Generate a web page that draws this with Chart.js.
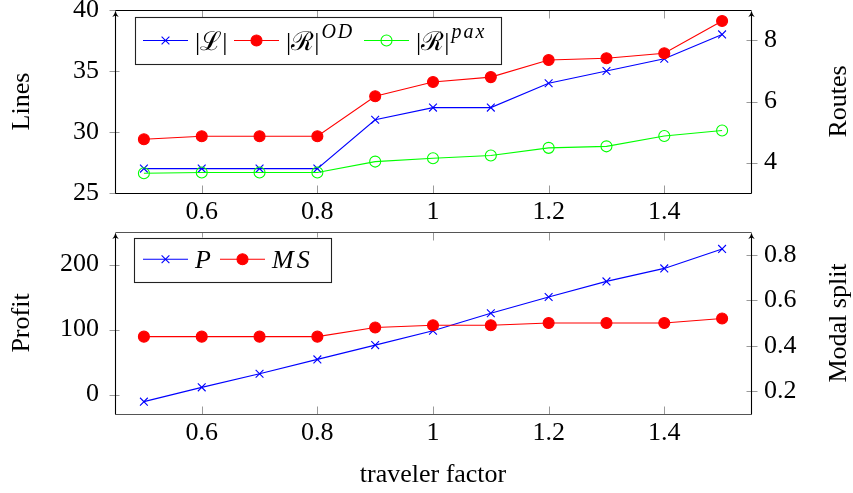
<!DOCTYPE html>
<html>
<head>
<meta charset="utf-8">
<script src="https://cdn.jsdelivr.net/npm/chart.js@4.4.1/dist/chart.umd.min.js"></script>
<style>
html,body{margin:0;padding:0;background:#fff;}
#wrap{position:relative;width:853px;height:493px;overflow:hidden;background:#fff;}
canvas{position:absolute;left:0;}
</style>
</head>
<body>
<div id="wrap">
<canvas id="topChart" width="853" height="235" style="top:0px"></canvas>
<canvas id="botChart" width="853" height="278" style="top:215px"></canvas>
</div>
<script>
// ---------- data ----------
const travelerFactor = [0.5, 0.6, 0.7, 0.8, 0.9, 1.0, 1.1, 1.2, 1.3, 1.4, 1.5];
const linesCount     = [27, 27, 27, 27, 31, 32, 32, 34, 35, 36, 38];
const routesOD       = [4.76, 4.86, 4.86, 4.86, 6.17, 6.64, 6.80, 7.36, 7.42, 7.58, 8.64];
const routesPax      = [3.65, 3.67, 3.67, 3.67, 4.03, 4.14, 4.23, 4.48, 4.53, 4.87, 5.05];
const profit         = [-11, 11, 32, 54, 76, 98, 125, 150, 174, 194, 224];
const modalSplit     = [0.44, 0.44, 0.44, 0.44, 0.48, 0.49, 0.49, 0.50, 0.50, 0.50, 0.52];

const xTicks       = [0.6, 0.8, 1, 1.2, 1.4];
const linesTicks   = [25, 30, 35, 40];
const routesTicks  = [4, 6, 8];
const profitTicks  = [0, 100, 200];
const modalTicks   = [0.2, 0.4, 0.6, 0.8];

const seriesLabelsTop = ['|ℒ|', '|ℛ|^OD', '|ℛ|^pax'];
const seriesLabelsBot = ['P', 'MS'];
const axisTitles = { x: 'traveler factor', lines: 'Lines', routes: 'Routes', profit: 'Profit', modal: 'Modal split' };

// ---------- style ----------
const SERIF = "'Liberation Serif','DejaVu Serif',serif";
Chart.defaults.font.family = SERIF;
Chart.defaults.font.size = 26;
Chart.defaults.color = '#000';

const BLUE = '#0000ff', RED = '#ff0000', GREEN = '#00ff00';

function pts(ys) { return travelerFactor.map((x, i) => ({ x: x, y: ys[i] })); }
function fmt(v) { return String(Math.round(v * 10) / 10); }

function ds(label, ys, axis, color, style, fillColor, extra) {
  return Object.assign({
    label: label, data: pts(ys), yAxisID: axis,
    borderColor: color, borderWidth: 1.1, fill: false, tension: 0,
    pointStyle: style, pointRadius: 5.5, pointHoverRadius: 5.5,
    pointBorderColor: color, pointBackgroundColor: fillColor, pointBorderWidth: 1.1,
    clip: false
  }, extra || {});
}

function xScale(height, labelPad, showTitle, titlePad) {
  return {
    type: 'linear', min: 0.45, max: 1.55,
    afterBuildTicks: s => { s.ticks = xTicks.map(v => ({ value: v })); },
    afterFit: s => { s.height = height; s.paddingLeft = 0; s.paddingRight = 0; },
    grid: { drawOnChartArea: false, drawTicks: false },
    border: { display: false },
    ticks: { padding: labelPad, callback: fmt, maxRotation: 0, autoSkip: false },
    title: { display: showTitle, text: axisTitles.x, padding: { top: titlePad, bottom: titlePad }, font: { size: 26 } }
  };
}
function yScale(pos, min, max, tickArr, width, pad, title) {
  return {
    type: 'linear', position: pos, min: min, max: max,
    afterBuildTicks: s => { s.ticks = tickArr.map(v => ({ value: v })); },
    afterFit: s => { s.width = width; s.paddingTop = 0; s.paddingBottom = 0; },
    grid: { drawOnChartArea: false, drawTicks: false },
    border: { display: false },
    ticks: { padding: pad, callback: fmt, autoSkip: false },
    title: { display: pos === 'left', text: title, padding: { top: 7, bottom: 7 }, font: { size: 26 } }
  };
}

// ---------- decoration plugin (frame, pgf ticks, arrows, right titles, legend) ----------
function arrow(ctx, x, y) {
  ctx.save();
  ctx.fillStyle = '#000';
  ctx.beginPath();
  ctx.moveTo(x, y);
  ctx.quadraticCurveTo(x + 0.8, y + 4, x + 3.2, y + 6.5);
  ctx.lineTo(x, y + 5);
  ctx.lineTo(x - 3.2, y + 6.5);
  ctx.quadraticCurveTo(x - 0.8, y + 4, x, y);
  ctx.closePath();
  ctx.fill();
  ctx.restore();
}
function marker(ctx, style, x, y, r, stroke, fill) {
  ctx.save();
  ctx.strokeStyle = stroke; ctx.lineWidth = 1.1;
  if (style === 'crossRot') {
    const d = r * Math.SQRT1_2;
    ctx.beginPath();
    ctx.moveTo(x - d, y - d); ctx.lineTo(x + d, y + d);
    ctx.moveTo(x + d, y - d); ctx.lineTo(x - d, y + d);
    ctx.stroke();
  } else {
    ctx.beginPath(); ctx.arc(x, y, r, 0, Math.PI * 2);
    ctx.fillStyle = fill; ctx.fill(); ctx.stroke();
  }
  ctx.restore();
}
function drawLabel(ctx, label, italic, x, baseY) {
  const parts = label.split('^');
  ctx.save();
  ctx.fillStyle = '#000'; ctx.textBaseline = 'alphabetic'; ctx.textAlign = 'left';
  ctx.font = (italic ? 'italic ' : '') + '26px ' + SERIF;
  if (italic) ctx.letterSpacing = '3px';
  const w = ctx.measureText(parts[0]).width;
  ctx.fillText(parts[0], x, baseY);
  if (parts[1]) {
    ctx.font = 'italic 20px ' + SERIF;
    ctx.letterSpacing = '2px';
    ctx.fillText(parts[1], x + w + 2, baseY - 11.5);
  }
  ctx.restore();
}

const pgfDecor = {
  id: 'pgfDecor',
  afterDatasetsDraw(chart, args, opts) {
    const ctx = chart.ctx;
    const a = chart.chartArea;
    const L = Math.round(a.left) + 0.5, R = Math.round(a.right) + 0.5;
    const T = Math.round(a.top) + 0.5, B = Math.round(a.bottom) + 0.5;
    ctx.save();
    ctx.strokeStyle = '#9a9a9a'; ctx.lineWidth = 1;
    const xs = chart.scales.x;
    xTicks.forEach(v => {
      const px = Math.round(xs.getPixelForValue(v)) + 0.5;
      ctx.beginPath();
      ctx.moveTo(px, B); ctx.lineTo(px, B - 8);
      ctx.moveTo(px, T); ctx.lineTo(px, T + 8);
      ctx.stroke();
    });
    const yl = chart.scales[opts.leftId], yr = chart.scales[opts.rightId];
    opts.leftTicks.forEach(v => {
      const py = Math.round(yl.getPixelForValue(v)) + 0.5;
      ctx.beginPath(); ctx.moveTo(L - 6, py); ctx.lineTo(L + 4, py); ctx.stroke();
    });
    opts.rightTicks.forEach(v => {
      const py = Math.round(yr.getPixelForValue(v)) + 0.5;
      ctx.beginPath(); ctx.moveTo(R - 5, py); ctx.lineTo(R + 6, py); ctx.stroke();
    });
    ctx.strokeStyle = opts.frameColor; ctx.lineWidth = 1.1;
    ctx.beginPath();
    ctx.moveTo(L, T); ctx.lineTo(R, T);
    ctx.moveTo(L, B); ctx.lineTo(R, B);
    ctx.stroke();
    ctx.strokeStyle = '#000';
    ctx.beginPath();
    ctx.moveTo(L, B); ctx.lineTo(L, T + 2);
    ctx.moveTo(R, B); ctx.lineTo(R, T + 2);
    ctx.stroke();
    ctx.restore();
    arrow(ctx, L, T);
    arrow(ctx, R, T);
    ctx.save();
    ctx.translate(opts.rightTitleX, (a.top + a.bottom) / 2);
    ctx.rotate(-Math.PI / 2);
    ctx.font = '26px ' + SERIF;
    ctx.fillStyle = '#000'; ctx.textAlign = 'center'; ctx.textBaseline = 'middle';
    ctx.fillText(opts.rightTitle, 0, 0);
    ctx.restore();
  },
  afterDraw(chart, args, opts) {
    const ctx = chart.ctx;
    const lg = opts.legend;
    const dsets = chart.data.datasets;
    const x0 = lg.x, y0 = lg.y, h = lg.h, w = lg.w, cy = y0 + h / 2;
    ctx.save();
    ctx.fillStyle = '#fff';
    ctx.fillRect(x0, y0, w, h);
    ctx.strokeStyle = '#222'; ctx.lineWidth = 1.1;
    ctx.strokeRect(Math.round(x0) + 0.5, Math.round(y0) + 0.5, Math.round(w), Math.round(h));
    dsets.forEach((d, i) => {
      const x = lg.slots[i];
      ctx.strokeStyle = d.borderColor; ctx.lineWidth = 1.1;
      ctx.beginPath(); ctx.moveTo(x, cy); ctx.lineTo(x + 45, cy); ctx.stroke();
      marker(ctx, d.pointStyle, x + 22.5, cy, 5.5, d.pointBorderColor, d.pointBackgroundColor);
      drawLabel(ctx, d.label, d.italicLabel, x + 52, cy + 9);
    });
    ctx.restore();
  }
};

// ---------- top chart ----------
new Chart(document.getElementById('topChart'), {
  type: 'line',
  data: {
    datasets: [
      ds(seriesLabelsTop[0], linesCount, 'yL', BLUE, 'crossRot', BLUE, { order: 2 }),
      ds(seriesLabelsTop[1], routesOD, 'yR', RED, 'circle', RED, { order: 1 }),
      ds(seriesLabelsTop[2], routesPax, 'yR', GREEN, 'circle', 'rgba(0,0,0,0)', { order: 0 })
    ]
  },
  options: {
    responsive: false, animation: false, devicePixelRatio: 1, events: [],
    layout: { padding: { top: 10, left: 0, right: 0, bottom: 0 } },
    plugins: {
      legend: { display: false }, tooltip: { enabled: false },
      pgfDecor: { frameColor: '#000', leftId: 'yL', rightId: 'yR', leftTicks: linesTicks, rightTicks: routesTicks,
        rightTitle: axisTitles.routes, rightTitleX: 839,
        legend: { x: 135, y: 17, h: 47, w: 366, slots: [143, 234, 364] } }
    },
    scales: {
      x: xScale(42, 4, false, 0),
      yL: yScale('left', 25, 40, linesTicks, 115, 16, axisTitles.lines),
      yR: yScale('right', 3, 9, routesTicks, 102, 13, axisTitles.routes)
    }
  },
  plugins: [pgfDecor]
});

// ---------- bottom chart ----------
new Chart(document.getElementById('botChart'), {
  type: 'line',
  data: {
    datasets: [
      ds(seriesLabelsBot[0], profit, 'yL', BLUE, 'crossRot', BLUE, { order: 1, italicLabel: true }),
      ds(seriesLabelsBot[1], modalSplit, 'yR', RED, 'circle', RED, { order: 0, italicLabel: true })
    ]
  },
  options: {
    responsive: false, animation: false, devicePixelRatio: 1, events: [],
    layout: { padding: { top: 17, left: 0, right: 0, bottom: 0 } },
    plugins: {
      legend: { display: false }, tooltip: { enabled: false },
      pgfDecor: { frameColor: '#555', leftId: 'yL', rightId: 'yR', leftTicks: profitTicks, rightTicks: modalTicks,
        rightTitle: axisTitles.modal, rightTitleX: 839,
        legend: { x: 134, y: 22.5, h: 43.5, w: 197, slots: [143, 220] } }
    },
    scales: {
      x: xScale(79, 4, true, 2),
      yL: yScale('left', -30, 250, profitTicks, 115, 16, axisTitles.profit),
      yR: yScale('right', 0.1, 0.9, modalTicks, 102, 13, axisTitles.modal)
    }
  },
  plugins: [pgfDecor]
});
</script>
</body>
</html>
